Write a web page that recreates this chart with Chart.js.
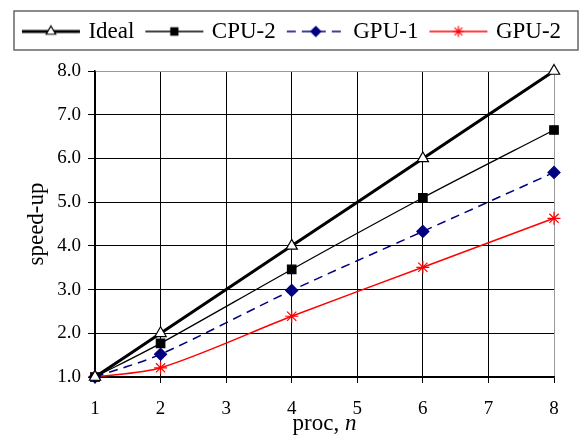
<!DOCTYPE html>
<html>
<head>
<meta charset="utf-8">
<script src="https://cdn.jsdelivr.net/npm/chart.js@4/dist/chart.umd.min.js"></script>
<style>
  html, body { margin: 0; padding: 0; background: #fff; }
  #wrap { width: 586px; height: 437px; }
</style>
</head>
<body>
<div id="wrap"><canvas id="chart--speedup" width="586" height="437"></canvas></div>
<script>
// proc counts (x) and measured speed-up per series
const procs = [1, 2, 4, 6, 8]
const ideal = [1.0, 2.0, 4.0, 6.0, 8.0]
const cpu2 = [1.0, 1.77, 3.46, 5.10, 6.65]
const gpu1 = [1.0, 1.52, 2.98, 4.33, 5.68]
const gpu2 = [1.0, 1.21, 2.39, 3.51, 4.63]

const xTicks = [1, 2, 3, 4, 5, 6, 7, 8]
const yTicks = [1, 2, 3, 4, 5, 6, 7, 8]

const serif = "'Liberation Serif', 'Times New Roman', serif"

function pts(vals) {
	return procs.map(function(p, i) { return {x: p, y: vals[i]} })
}

// little line+marker picture for the legend
function legendSample(color, width, dash, style, fill, radius) {
	var c = document.createElement('canvas')
	c.width = 60
	c.height = 22
	var g = c.getContext('2d')
	g.strokeStyle = color
	g.lineWidth = width
	g.setLineDash(dash)
	g.beginPath()
	g.moveTo(1, 11)
	g.lineTo(59, 11)
	g.stroke()
	g.setLineDash([])
	g.lineWidth = 1.2
	g.fillStyle = fill
	g.strokeStyle = color
	Chart.helpers.drawPoint(g, {pointStyle: style, radius: radius - 1, borderWidth: 1.2}, 30, 11)
	return c
}

const series = [
	{label: 'Ideal', data: pts(ideal), color: '#000', width: 3, dash: [], style: 'triangle', fill: '#fff', radius: 6.5},
	{label: 'CPU-2', data: pts(cpu2), color: '#000', width: 1.3, dash: [], style: 'rect', fill: '#000', radius: 6},
	{label: 'GPU-1', data: pts(gpu1), color: '#000080', width: 1.5, dash: [9, 6], style: 'rectRot', fill: '#000080', radius: 6},
	{label: 'GPU-2', data: pts(gpu2), color: '#ff0000', width: 1.5, dash: [], style: 'star', fill: '#ff0000', radius: 6.5}
]

const legendBox = {
	id: 'legendBox',
	afterDraw(chart) {
		var ctx = chart.ctx
		ctx.save()
		ctx.strokeStyle = '#666'
		ctx.lineWidth = 1.5
		ctx.strokeRect(14, 11, 564, 39)
		ctx.restore()
	}
}

// x-axis title with italic n
const xTitle = {
	id: 'xTitle',
	afterDraw(chart) {
		var ctx = chart.ctx
		var a = chart.chartArea
		ctx.save()
		ctx.fillStyle = '#000'
		ctx.textBaseline = 'middle'
		ctx.font = '23px ' + serif
		var t1 = 'proc, '
		var w1 = ctx.measureText(t1).width
		ctx.font = 'italic 23px ' + serif
		var w2 = ctx.measureText('n').width
		var x0 = (a.left + a.right) / 2 - (w1 + w2) / 2
		ctx.font = '23px ' + serif
		ctx.fillText(t1, x0, 424)
		ctx.font = 'italic 23px ' + serif
		ctx.fillText('n', x0 + w1, 424)
		ctx.restore()
	}
}

const ctx = document.getElementById('chart--speedup').getContext('2d')
const chart__speedup = new Chart(ctx, {
	type: 'line',
	data: {
		datasets: series.map(function(s) {
			return {
				label: s.label,
				data: s.data,
				borderColor: s.color,
				borderWidth: s.width,
				borderDash: s.dash,
				backgroundColor: s.fill,
				pointStyle: s.style,
				pointRadius: s.radius,
				pointBorderColor: s.color,
				pointBackgroundColor: s.fill,
				pointBorderWidth: 1.2,
				tension: 0.3,
				fill: false,
				clip: false
			}
		})
	},
	options: {
		responsive: false,
		animation: false,
		layout: {
			padding: {top: 6, left: 0, right: 0, bottom: 0}
		},
		plugins: {
			tooltip: {enabled: false},
			legend: {
				display: true,
				position: 'top',
				labels: {
					usePointStyle: true,
					pointStyleWidth: 52,
					padding: 14,
					color: '#000',
					font: {family: serif, size: 23},
					generateLabels: function(chart) {
						return series.map(function(s, i) {
							return {
								text: s.label,
								datasetIndex: i,
								pointStyle: legendSample(s.color, s.width, s.dash, s.style, s.fill, s.radius),
								fillStyle: s.fill,
								strokeStyle: s.color,
								lineWidth: 0,
								fontColor: '#000'
							}
						})
					}
				}
			}
		},
		scales: {
			x: {
				type: 'linear',
				min: 1,
				max: 8,
				afterBuildTicks: function(scale) { scale.ticks = xTicks.map(function(v) { return {value: v} }) },
				afterFit: function(scale) { scale.height = 60 },
				ticks: {
					color: '#000',
					font: {family: serif, size: 19},
					padding: 15,
					maxRotation: 0
				},
				grid: {
					color: function(c) { return c.tick && c.tick.value === 8 ? '#999' : '#000' },
					tickColor: '#000',
					tickLength: 6,
					lineWidth: 1
				},
				border: {color: '#000', width: 1.5}
			},
			// spacer between legend and plot area
			x2: {
				position: 'top',
				display: true,
				afterFit: function(scale) { scale.height = 18 },
				ticks: {display: false},
				grid: {display: false, drawTicks: false},
				border: {display: false}
			},
			y: {
				type: 'linear',
				min: 1,
				max: 8,
				afterBuildTicks: function(scale) { scale.ticks = yTicks.map(function(v) { return {value: v} }) },
				afterFit: function(scale) { scale.width = 95 },
				ticks: {
					color: '#000',
					font: {family: serif, size: 19},
					padding: 7,
					callback: function(v) { return v.toFixed(1) }
				},
				title: {
					display: true,
					text: 'speed-up',
					color: '#000',
					font: {family: serif, size: 23},
					padding: {top: 23, bottom: 0}
				},
				grid: {
					color: function(c) { return c.tick && c.tick.value === 8 ? '#999' : '#000' },
					tickColor: '#000',
					tickLength: 7,
					lineWidth: 1
				},
				border: {color: '#000', width: 1.5}
			},
			y2: {
				position: 'right',
				display: true,
				afterFit: function(scale) { scale.width = 32 },
				ticks: {display: false},
				grid: {display: false, drawTicks: false},
				border: {display: false}
			}
		}
	},
	plugins: [legendBox, xTitle]
});
</script>
</body>
</html>
